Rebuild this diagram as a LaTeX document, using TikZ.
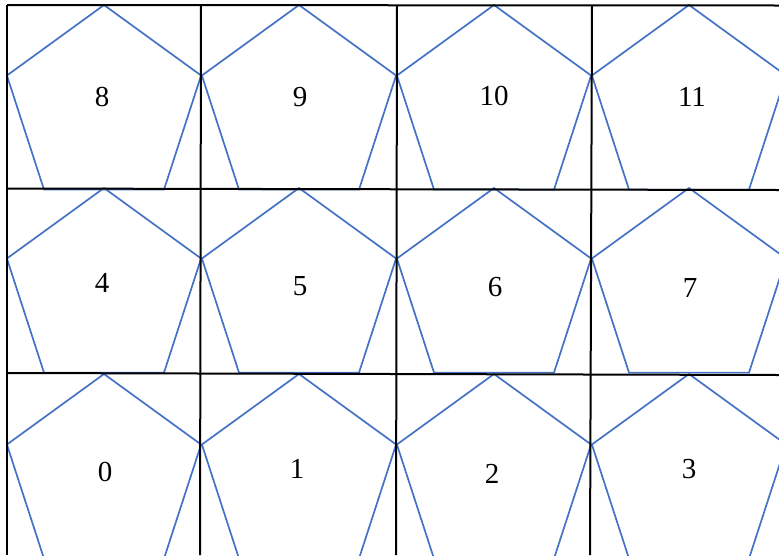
\documentclass[tikz,border=0pt]{standalone}
\usepackage{fontspec}
\setmainfont{Liberation Serif}
\definecolor{pentablue}{RGB}{68,114,196}

\begin{document}
\begin{tikzpicture}[x=1pt, y=-1pt, line join=miter]

	% ================= styles =================
	\tikzset{
		gridline/.style={line width=2pt, draw=black},
		penta/.style={line width=1.7pt, draw=pentablue},
		num/.style={font=\fontsize{29}{29}\selectfont, inner sep=0pt}
	}

	\useasboundingbox (0,0) rectangle (779,555);
	\clip (0,0) rectangle (779,555);

	% ================= pentagons, top vertex on the row line =================
	\foreach \cx in {104,299,494,689}{
		\foreach \ty in {5,188,374}{
			\draw[penta] (\cx,\ty) -- ++(97.1,70.5) -- ++(-37.1,114.1)
			-- ++(-120,0) -- ++(-37.1,-114.1) -- cycle;
		}
	}

	% ================= grid =================
	\draw[gridline] (7,5) -- (779,5.5);
	\draw[gridline] (7,188.5) -- (779,190);
	\draw[gridline] (7,373) -- (779,375);
	\draw[gridline] (7,5) -- (7,555);
	\draw[gridline] (201,5) -- (200,555);
	\draw[gridline] (397,5) -- (396,555);
	\draw[gridline] (592,5) -- (590,555);

	% ================= numbers =================
	\node[num] (lbl8) at (102,97) {8};
	\node[num] (lbl9) at (300,97) {9};
	\node[num] (lbl10) at (494,96) {10};
	\node[num] (lbl11) at (692,97) {11};
	\node[num] (lbl4) at (102,283) {4};
	\node[num] (lbl5) at (300,286) {5};
	\node[num] (lbl6) at (495,287) {6};
	\node[num] (lbl7) at (690,288) {7};
	\node[num] (lbl0) at (105,472) {0};
	\node[num] (lbl1) at (297,469) {1};
	\node[num] (lbl2) at (492,474) {2};
	\node[num] (lbl3) at (689,469) {3};

\end{tikzpicture}
\end{document}
